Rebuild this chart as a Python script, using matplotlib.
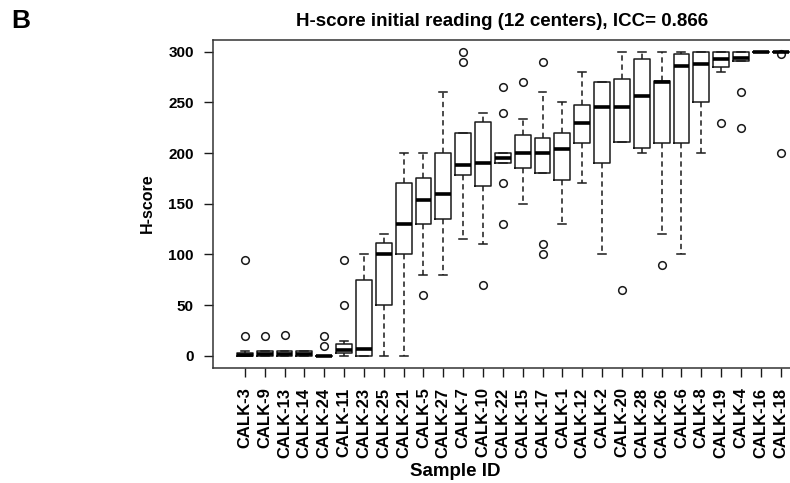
import matplotlib
matplotlib.use("Agg")
import matplotlib.pyplot as plt

plt.rcParams['font.family'] = ['Liberation Sans', 'DejaVu Sans']
plt.rcParams['font.weight'] = 'bold'

samples = ["CALK-3", "CALK-9", "CALK-13", "CALK-14", "CALK-24", "CALK-11", "CALK-23",
           "CALK-25", "CALK-21", "CALK-5", "CALK-27", "CALK-7", "CALK-10", "CALK-22",
           "CALK-15", "CALK-17", "CALK-1", "CALK-12", "CALK-2", "CALK-20", "CALK-28",
           "CALK-26", "CALK-6", "CALK-8", "CALK-19", "CALK-4", "CALK-16", "CALK-18"]

# five-number summaries
q1 = [0, 0, 0, 0, 0, 3, 0, 50, 100, 130, 135, 178, 168, 190,
      185, 180, 173, 210, 190, 211, 205, 210, 210, 250, 285, 291, 300, 300]
med = [1, 2, 2, 2, 0, 6, 7, 100, 130, 154, 160, 188, 190, 195,
       200, 200, 204, 230, 245, 245, 256, 270, 286, 288, 293, 294, 300, 300]
q3 = [3, 5, 5, 5, 0, 12, 75, 111, 170, 175, 200, 220, 231, 200,
      218, 215, 220, 247, 270, 273, 293, 271, 298, 300, 300, 300, 300, 300]
whislo = [0, 0, 0, 0, 0, 0, 0, 0, 0, 80, 80, 115, 110, 190,
          150, 180, 130, 170, 100, 211, 200, 120, 100, 200, 280, 291, 300, 300]
whishi = [5, 5, 5, 5, 0, 15, 100, 120, 200, 200, 260, 220, 240, 200,
          234, 260, 250, 280, 270, 300, 300, 300, 300, 300, 300, 300, 300, 300]
outliers = [[20, 95], [20], [21], [], [10, 20], [50, 95], [], [], [], [60], [], [290, 300],
            [70], [130, 170, 240, 265], [270], [100, 110, 290], [], [], [], [65], [], [90],
            [], [], [230], [225, 260], [], [200, 298]]

stats = []
for i, name in enumerate(samples):
    stats.append(dict(label=name, med=med[i], q1=q1[i], q3=q3[i],
                      whislo=whislo[i], whishi=whishi[i], fliers=outliers[i]))

fig = plt.figure(figsize=(7.9, 4.83), dpi=100)
ax = fig.add_axes([0.2692, 0.2381, 0.7346, 0.6801])

lc = '#1a1a1a'
ax.bxp(stats, positions=range(1, len(samples) + 1), widths=0.8, capwidths=0.4,
       boxprops=dict(color=lc, linewidth=1.1),
       medianprops=dict(color='black', linewidth=2.6, solid_capstyle='butt'),
       whiskerprops=dict(color=lc, linewidth=1.1, linestyle=(0, (3.5, 2.5))),
       capprops=dict(color=lc, linewidth=1.1),
       flierprops=dict(marker='o', markersize=5.5, markerfacecolor='none',
                       markeredgecolor=lc, markeredgewidth=1.1))

ax.set_xlim(-0.62, len(samples) + 0.62)
ax.set_ylim(-12, 312)
ax.set_yticks([0, 50, 100, 150, 200, 250, 300])
ax.set_xticks(range(1, len(samples) + 1))
ax.set_xticklabels(samples, rotation=90, fontsize=12, fontweight='bold')
ax.tick_params(axis='y', labelsize=11, length=6.5, width=1, pad=7, color=lc)
ax.tick_params(axis='x', length=6.5, width=1, pad=7.5, color=lc)
for s in ax.spines.values():
    s.set_linewidth(1.1)
    s.set_color('#333333')

fig.text(502 / 790, 1 - 21 / 483, "H-score initial reading (12 centers), ICC= 0.866",
         ha='center', va='center', fontsize=13.5, fontweight='bold')
fig.text(21 / 790, 1 - 21 / 483, "B", ha='center', va='center', fontsize=19, fontweight='bold')
fig.text(147 / 790, 1 - 203 / 483, "H-score", ha='center', va='center', rotation=90,
         fontsize=11.5, fontweight='bold')
fig.text(455 / 790, 1 - 471 / 483, "Sample ID", ha='center', va='center',
         fontsize=13.5, fontweight='bold')

fig.savefig("out.png", dpi=100)
